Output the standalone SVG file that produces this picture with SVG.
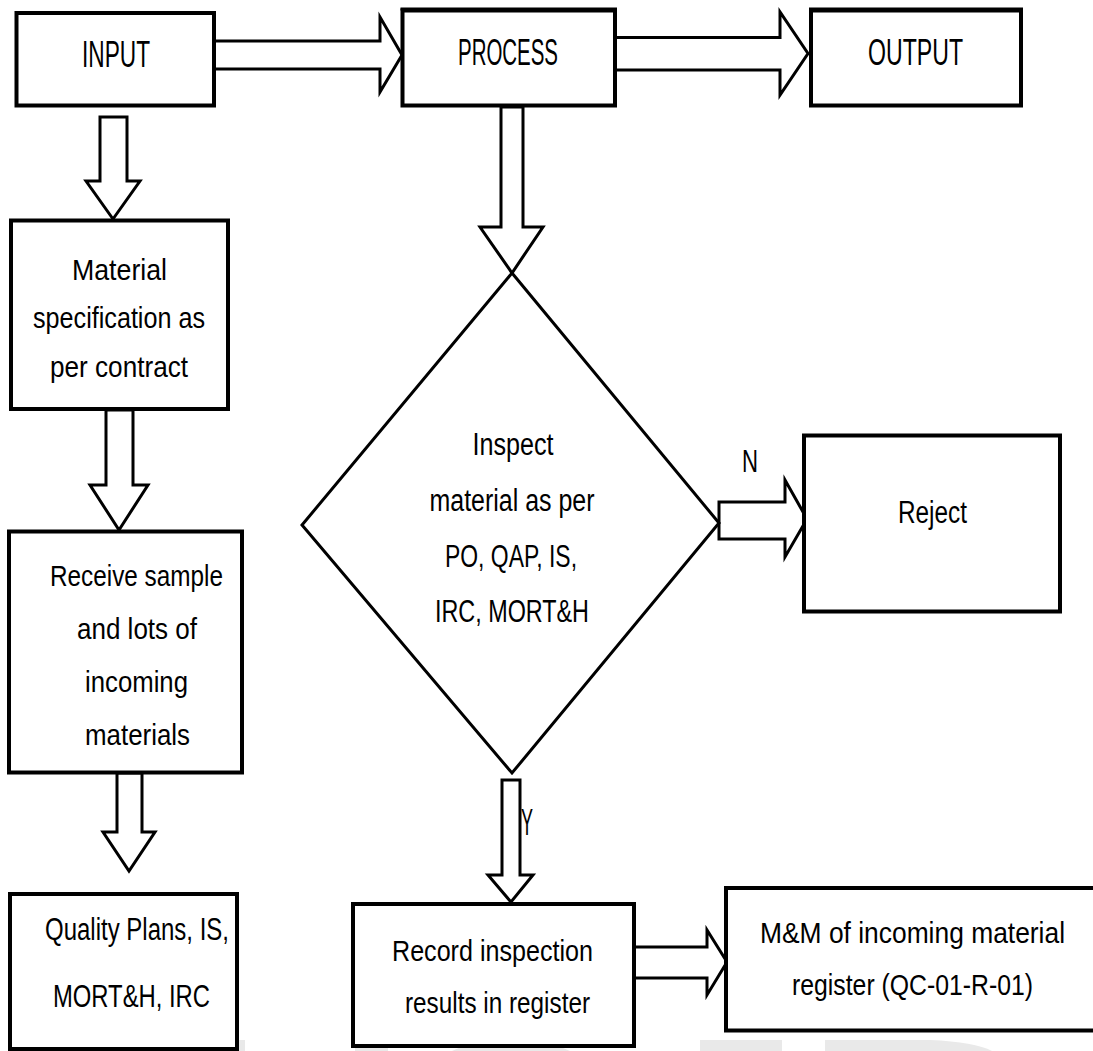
<svg xmlns="http://www.w3.org/2000/svg" width="1093" height="1051" viewBox="0 0 1093 1051">
<style>
.box{fill:#fff;stroke:#000;stroke-width:4}
.dia{fill:#fff;stroke:#000;stroke-width:3}
.arr{fill:#fff;stroke:#000;stroke-width:3;stroke-linejoin:miter}
.wm{fill:#e9e9e9;stroke:none}
text{font-family:"Liberation Sans",Arial,sans-serif;fill:#000;text-anchor:middle}
.t35{font-size:36px}
.t28{font-size:30px}
.t29{font-size:31px}
.t30{font-size:31px}
.tmm{font-size:29px}
</style>
<rect x="0" y="0" width="1093" height="1051" fill="#fff"/>
<g id="watermark">
<rect class="wm" x="213" y="1040" width="32" height="11"/>
<rect class="wm" x="355" y="1037" width="33" height="14"/>
<path class="wm" d="M452 1051 Q510 1022 570 1051 Z"/>
<rect class="wm" x="700" y="1040" width="82" height="11"/>
<path class="wm" d="M825 1040 L930 1040 Q975 1042 992 1051 L825 1051 Z"/>
</g>
<g id="connectors">
<polygon class="arr" points="214,41 380,41 380,17 402,55 380,92 380,69 214,69"/>
<polygon class="arr" points="615,37.5 780,37.5 780,12 808,53.5 780,95 780,70 615,70"/>
<polygon class="arr" points="100,117 127,117 127,181 140,181 113,219 86,181 100,181"/>
<polygon class="arr" points="106,410 133,410 133,485 148,485 119,530 90,485 106,485"/>
<polygon class="arr" points="117,773 142,773 142,832 155,832 129,871 103,832 117,832"/>
<polygon class="arr" points="501,107 523,107 523,227 543,227 512,273 480,227 501,227"/>
<polygon class="arr" points="719,502 785,502 785,480 807,519 785,557 785,539 719,539"/>
<polygon class="arr" points="502,780 520,780 520,875 533,875 511,902 488,875 502,875"/>
<polygon class="arr" points="634,947 707,947 707,930 727,962 707,995 707,978 634,978"/>
<text class="t30" x="750" y="472" textLength="16" lengthAdjust="spacingAndGlyphs">N</text>
<text x="527" y="835" style="font-size:36px" textLength="12" lengthAdjust="spacingAndGlyphs">Y</text>
</g>
<g id="input">
<rect class="box" x="16.5" y="13" width="197.5" height="92.5"/>
<text class="t35" x="116" y="67" textLength="68" lengthAdjust="spacingAndGlyphs">INPUT</text>
</g>
<g id="process">
<rect class="box" x="402.5" y="10.5" width="212.5" height="95"/>
<line x1="400.5" y1="9" x2="617" y2="9" stroke="#000" stroke-width="3"/>
<text class="t35" x="508" y="65" textLength="100" lengthAdjust="spacingAndGlyphs">PROCESS</text>
</g>
<g id="output">
<rect class="box" x="811" y="10.5" width="210" height="95"/>
<line x1="809" y1="9" x2="1023" y2="9" stroke="#000" stroke-width="3"/>
<text class="t35" x="915.5" y="65" textLength="95" lengthAdjust="spacingAndGlyphs">OUTPUT</text>
</g>
<g id="material-spec">
<rect class="box" x="11" y="220.5" width="217" height="188.5"/>
<text class="t28" x="119.5" y="280" textLength="95" lengthAdjust="spacingAndGlyphs">Material</text>
<text class="t28" x="119" y="328" textLength="172" lengthAdjust="spacingAndGlyphs">specification as</text>
<text class="t28" x="119" y="377" textLength="138" lengthAdjust="spacingAndGlyphs">per contract</text>
</g>
<g id="receive">
<rect class="box" x="9" y="531.5" width="233" height="241"/>
<text class="t28" x="136.5" y="586" textLength="173" lengthAdjust="spacingAndGlyphs">Receive sample</text>
<text class="t28" x="137" y="639" textLength="120" lengthAdjust="spacingAndGlyphs">and lots of</text>
<text class="t28" x="136.5" y="692" textLength="103" lengthAdjust="spacingAndGlyphs">incoming</text>
<text class="t28" x="137.5" y="745" textLength="105" lengthAdjust="spacingAndGlyphs">materials</text>
</g>
<g id="quality-plans">
<rect class="box" x="10" y="894" width="227" height="155"/>
<text class="t29" x="137" y="940" textLength="184" lengthAdjust="spacingAndGlyphs">Quality Plans, IS,</text>
<text class="t29" x="131.5" y="1007" textLength="157" lengthAdjust="spacingAndGlyphs">MORT&amp;H, IRC</text>
</g>
<g id="inspect">
<polygon class="dia" points="512,273 719,523 512,773 302,525"/>
<text class="t29" x="513" y="455" textLength="81" lengthAdjust="spacingAndGlyphs">Inspect</text>
<text class="t29" x="512" y="511" textLength="165" lengthAdjust="spacingAndGlyphs">material as per</text>
<text class="t29" x="511" y="567" textLength="132" lengthAdjust="spacingAndGlyphs">PO, QAP, IS,</text>
<text class="t29" x="512" y="622" textLength="154" lengthAdjust="spacingAndGlyphs">IRC, MORT&amp;H</text>
</g>
<g id="reject">
<rect class="box" x="804" y="435.5" width="256" height="176"/>
<text class="t30" x="932.5" y="523" textLength="69" lengthAdjust="spacingAndGlyphs">Reject</text>
</g>
<g id="record">
<rect class="box" x="353" y="904" width="281" height="142"/>
<text class="t28" x="492.5" y="961" textLength="201" lengthAdjust="spacingAndGlyphs">Record inspection</text>
<text class="t28" x="497.5" y="1013" textLength="185" lengthAdjust="spacingAndGlyphs">results in register</text>
</g>
<g id="mm-register">
<path class="box" d="M1093 888 H726 V1030.5 H1093"/>
<text class="tmm" x="912.5" y="943" textLength="305" lengthAdjust="spacingAndGlyphs">M&amp;M of incoming material</text>
<text class="tmm" x="912.5" y="995" textLength="241" lengthAdjust="spacingAndGlyphs">register (QC-01-R-01)</text>
</g>
</svg>
